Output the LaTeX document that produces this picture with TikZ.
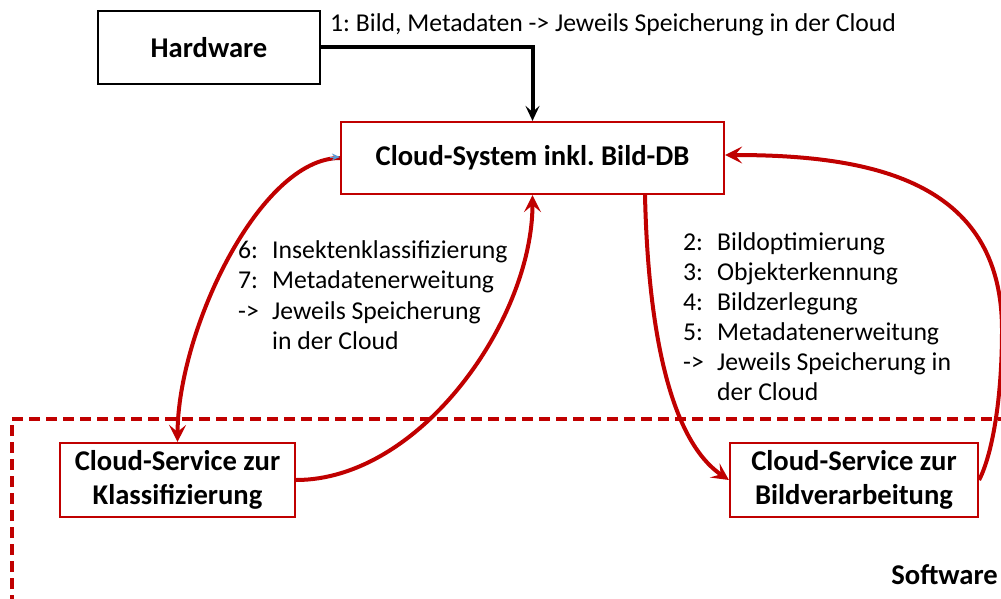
\documentclass[tikz,border=0pt]{standalone}
\usepackage{fontspec}
\setmainfont{Carlito}
\usetikzlibrary{arrows.meta}
\definecolor{darkred}{HTML}{C00000}
\definecolor{tipblue}{HTML}{5B9BD5}
\newcommand\steplbl[1]{\makebox[34pt][l]{#1}}
\frenchspacing
\begin{document}
\begin{tikzpicture}[x=1pt,y=-1pt,
  box/.style={draw=black, line width=2.2pt, align=center, inner sep=0pt,
    font=\fontsize{28.6}{34}\selectfont\bfseries},
  redbox/.style={box, draw=darkred},
  flow/.style={darkred, line width=4pt, -{Stealth[length=17pt,width=17pt,inset=7pt]}},
  feed/.style={black, line width=4pt, -{Stealth[length=15pt,width=14pt,inset=6pt]}},
  note/.style={inner sep=0pt, anchor=base west},
]
\useasboundingbox (0,0) rectangle (1001,599);
\fill[white] (0,0) rectangle (1001,599);

% software area (dashed frame running off the page)
\draw[darkred, line width=3.2pt, dash pattern=on 11pt off 6pt]
  (12,640) -- (12,419) -- (1040,419) -- (1040,640);
\node[inner sep=0pt, anchor=base east, font=\fontsize{28.6}{34}\selectfont\bfseries]
  (sw) at (998,584) {Software};

% boxes
\node[box, minimum width=222pt, minimum height=73pt] (hw) at (209,47.5) {Hardware};
\node[redbox, minimum width=383pt, minimum height=72pt] (cloud) at (532.5,158)
  {Cloud-System inkl. Bild-DB};
\node[redbox, minimum width=235pt, minimum height=74pt] (klass) at (177.5,480)
  {Cloud-Service zur\\Klassifizierung};
\node[redbox, minimum width=248pt, minimum height=74pt] (bild) at (854,480)
  {Cloud-Service zur\\Bildverarbeitung};

% labels
\node[note, font=\fontsize{25.7}{30}\selectfont] (l1) at (330,32)
  {1: Bild, Metadaten -> Jeweils Speicherung in der Cloud};
\node[note, font=\fontsize{25.7}{30.5}\selectfont] (lk) at (238,258)
  {\begin{tabular}[t]{@{}l@{}}
   \steplbl{6:}Insektenklassifizierung\\
   \steplbl{7:}Metadatenerweitung\\
   \steplbl{->}Jeweils Speicherung\\
   \steplbl{}in der Cloud
   \end{tabular}};
\node[note, font=\fontsize{25.7}{30}\selectfont] (lb) at (683,250)
  {\begin{tabular}[t]{@{}l@{}}
   \steplbl{2:}Bildoptimierung\\
   \steplbl{3:}Objekterkennung\\
   \steplbl{4:}Bildzerlegung\\
   \steplbl{5:}Metadatenerweitung\\
   \steplbl{->}Jeweils Speicherung in\\
   \steplbl{}der Cloud
   \end{tabular}};

% connectors
\draw[feed] (hw.east) -| (cloud.north);
\draw[flow] (cloud.west) .. controls (260,158) and (178,330) .. (klass.north);
\draw[tipblue, line width=1pt, -{Stealth[length=8pt,width=7pt]}]
  ([xshift=-10pt,yshift=1pt]cloud.west) -- ([yshift=1pt]cloud.west);
\draw[flow] (klass.east) .. controls (420,480) and (532.5,320) .. (cloud.south);
\draw[flow] ([xshift=112.5pt]cloud.south) .. controls (648,330) and (670,440) .. (bild.west);
\draw[flow] (bild.east) .. controls (992,455) and (1002,400) .. (1002,330)
  .. controls (1002,180) and (870,155) .. ([yshift=3pt]cloud.east);
\end{tikzpicture}
\end{document}
